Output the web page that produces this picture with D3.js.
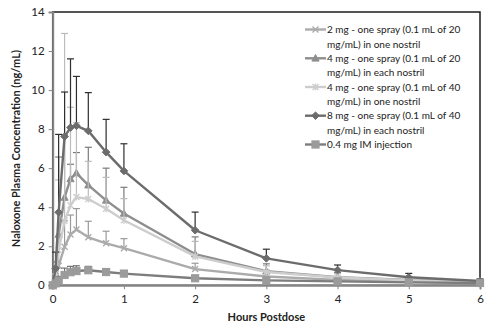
<!DOCTYPE html>
<html><head><meta charset="utf-8">
<script src="https://cdn.jsdelivr.net/npm/d3@7"></script>
<style>
body{margin:0;background:#fff}
svg{display:block}
text{font-family:Lato,"Open Sans",sans-serif;fill:#222}
</style>
</head><body>
<svg id="chart" width="500" height="326"></svg>
<script>
// Sampling times (hours postdose)
const hours = [0, 0.0417, 0.0833, 0.1667, 0.25, 0.3333, 0.5, 0.75, 1, 2, 3, 4, 5, 6];

// Mean plasma concentrations (ng/mL) and upper SD for each regimen
const mean2mg     = [0, 0.30, 1.00, 1.98, 2.60, 2.86, 2.46, 2.15, 1.90, 0.83, 0.45, 0.28, 0.18, 0.13];
const sd2mg       = [0, 0.30, 1.50, 1.32, 1.00, 1.07, 0.82, 0.62, 0.49, 0.30, 0.15, 0.12, 0.08, 0.05];
const mean4mg20   = [0, 0.60, 2.60, 4.50, 5.45, 5.75, 5.13, 4.35, 3.68, 1.60, 0.72, 0.42, 0.28, 0.20];
const sd4mg20     = [0, 0.60, 3.97, 3.20, 0.75, 1.05, 1.94, 1.65, 1.34, 0.88, 0.38, 0.23, 0.14, 0.10];
const mean4mg40   = [0, 0.45, 1.80, 3.30, 4.10, 4.52, 4.42, 3.92, 3.33, 1.48, 0.68, 0.40, 0.26, 0.18];
const sd4mg40     = [0, 0.45, 3.60, 9.60, 5.02, 3.81, 1.93, 1.61, 1.11, 0.77, 0.32, 0.20, 0.12, 0.08];
const mean8mg     = [0, 0.87, 3.74, 7.62, 8.08, 8.17, 7.91, 6.82, 5.86, 2.82, 1.38, 0.78, 0.41, 0.22];
const sd8mg       = [0, 0.83, 3.99, 2.28, 3.52, 2.53, 1.96, 1.68, 1.39, 0.93, 0.47, 0.26, 0.20, 0.10];
const meanIM      = [0, 0.10, 0.24, 0.53, 0.67, 0.73, 0.77, 0.68, 0.60, 0.36, 0.25, 0.20, 0.15, 0.12];
const sdIM        = [0, 0.08, 0.20, 0.35, 0.30, 0.27, 0.20, 0.15, 0.12, 0.08, 0.05, 0.04, 0.03, 0.03];

const seriesNames = [
  ["2 mg - one spray (0.1 mL of 20", "mg/mL) in one nostril"],
  ["4 mg - one spray (0.1 mL of 20", "mg/mL) in each nostril"],
  ["4 mg - one spray (0.1 mL of 40", "mg/mL) in one nostril"],
  ["8 mg - one spray (0.1 mL of 40", "mg/mL) in each nostril"],
  ["0.4 mg IM injection"]
];
const xTicks = [0, 1, 2, 3, 4, 5, 6];
const yTicks = [0, 2, 4, 6, 8, 10, 12, 14];

// Visual styling per series
const styles = [
  {color: "#ababab", err: "#9a9a9a", marker: "x"},
  {color: "#8e8e8e", err: "#7a7a7a", marker: "triangle"},
  {color: "#cdcdcd", err: "#bcbcbc", marker: "star"},
  {color: "#6c6c6c", err: "#2e2e2e", marker: "diamond"},
  {color: "#7d7d7d", err: "#707070", marker: "square", fill: "#9b9b9b"}
];

const series = [
  {mean: mean2mg, sd: sd2mg},
  {mean: mean4mg20, sd: sd4mg20},
  {mean: mean4mg40, sd: sd4mg40},
  {mean: mean8mg, sd: sd8mg},
  {mean: meanIM, sd: sdIM}
].map((s, i) => ({...s, name: seriesNames[i], ...styles[i],
  points: hours.map((h, j) => ({h, v: s.mean[j], sd: s.sd[j]}))}));

const svg = d3.select("#chart");
const x = d3.scaleLinear().domain([0, 6]).range([52.7, 480]);
const y = d3.scaleLinear().domain([0, 14]).range([285.3, 12]);

// Plot area frame
svg.append("rect")
  .attr("x", x(0)).attr("y", y(14))
  .attr("width", x(6) - x(0)).attr("height", y(0) - y(14))
  .attr("fill", "none").attr("stroke", "#1e1e1e").attr("stroke-width", 1.5);

// Axes
const yAxis = svg.append("g").attr("transform", `translate(${x(0)},0)`)
  .call(d3.axisLeft(y).tickValues(yTicks).tickSize(4).tickPadding(4).tickFormat(d3.format("d")));
const xAxis = svg.append("g").attr("transform", `translate(0,${y(0)})`)
  .call(d3.axisBottom(x).tickValues(xTicks).tickSize(4).tickPadding(6).tickFormat(d3.format("d")));
[yAxis, xAxis].forEach(g => {
  g.select(".domain").attr("stroke", "#868686").attr("stroke-width", 2);
  g.selectAll(".tick line").attr("stroke", "#868686");
  g.selectAll(".tick text").style("font-size", "11.5px").attr("fill", "#222");
});

// Axis titles
svg.append("text").attr("x", (x(0) + x(6)) / 2).attr("y", 321)
  .attr("text-anchor", "middle").style("font-size", "11px").style("font-weight", "bold")
  .text("Hours Postdose");
svg.append("text")
  .attr("transform", `translate(20,${(y(0) + y(14)) / 2}) rotate(-90)`)
  .attr("text-anchor", "middle").style("font-size", "11px").style("font-weight", "bold")
  .text("Naloxone Plasma Concentration (ng/mL)");

// Marker drawing helper
function drawMarker(g, type, cx, cy, s) {
  const c = s.color;
  if (type === "diamond") {
    g.append("path").attr("d", `M${cx},${cy-3.8}L${cx+3.8},${cy}L${cx},${cy+3.8}L${cx-3.8},${cy}Z`)
      .attr("fill", c).attr("stroke", c);
  } else if (type === "triangle") {
    g.append("path").attr("d", `M${cx},${cy-3.8}L${cx+3.6},${cy+2.8}L${cx-3.6},${cy+2.8}Z`)
      .attr("fill", c).attr("stroke", c);
  } else if (type === "square") {
    g.append("rect").attr("x", cx - 3.6).attr("y", cy - 3.6).attr("width", 7.2).attr("height", 7.2)
      .attr("fill", s.fill).attr("stroke", s.fill);
  } else if (type === "x") {
    g.append("path").attr("d", `M${cx-3},${cy-3}L${cx+3},${cy+3}M${cx-3},${cy+3}L${cx+3},${cy-3}`)
      .attr("stroke", c).attr("stroke-width", 1.4);
  } else if (type === "star") {
    g.append("path").attr("d", `M${cx-3},${cy-3}L${cx+3},${cy+3}M${cx-3},${cy+3}L${cx+3},${cy-3}M${cx},${cy-3.5}L${cx},${cy+3.5}`)
      .attr("stroke", c).attr("stroke-width", 1.4);
  }
}

const line = d3.line().x(d => x(d.h)).y(d => y(d.v));

series.forEach(s => {
  const g = svg.append("g");
  // upper error bars
  s.points.filter(p => p.sd > 0).forEach(p => {
    const px = x(p.h), top = y(p.v + p.sd);
    g.append("line").attr("x1", px).attr("x2", px).attr("y1", y(p.v)).attr("y2", top)
      .attr("stroke", s.err).attr("stroke-width", 1.2);
    g.append("line").attr("x1", px - 3.5).attr("x2", px + 3.5).attr("y1", top).attr("y2", top)
      .attr("stroke", s.err).attr("stroke-width", 1.2);
  });
  g.append("path").datum(s.points).attr("d", line)
    .attr("fill", "none").attr("stroke", s.color).attr("stroke-width", 2.4)
    .attr("stroke-linejoin", "round");
  s.points.forEach(p => drawMarker(g, s.marker, x(p.h), y(p.v), s));
});

// Legend
const legendRowY = [29.5, 58.3, 87, 115.7, 144.5];
series.forEach((s, i) => {
  const g = svg.append("g");
  const cy = legendRowY[i];
  g.append("line").attr("x1", 305).attr("x2", 326).attr("y1", cy).attr("y2", cy)
    .attr("stroke", s.color).attr("stroke-width", 2.4);
  drawMarker(g, s.marker, 315.5, cy, s);
  const t = g.append("text").attr("x", 327).attr("y", cy + 3.6).style("font-size", "10px");
  s.name.forEach((ln, k) => t.append("tspan").attr("x", 327).attr("dy", k === 0 ? 0 : 14.4).text(ln));
});
</script>
</body></html>
